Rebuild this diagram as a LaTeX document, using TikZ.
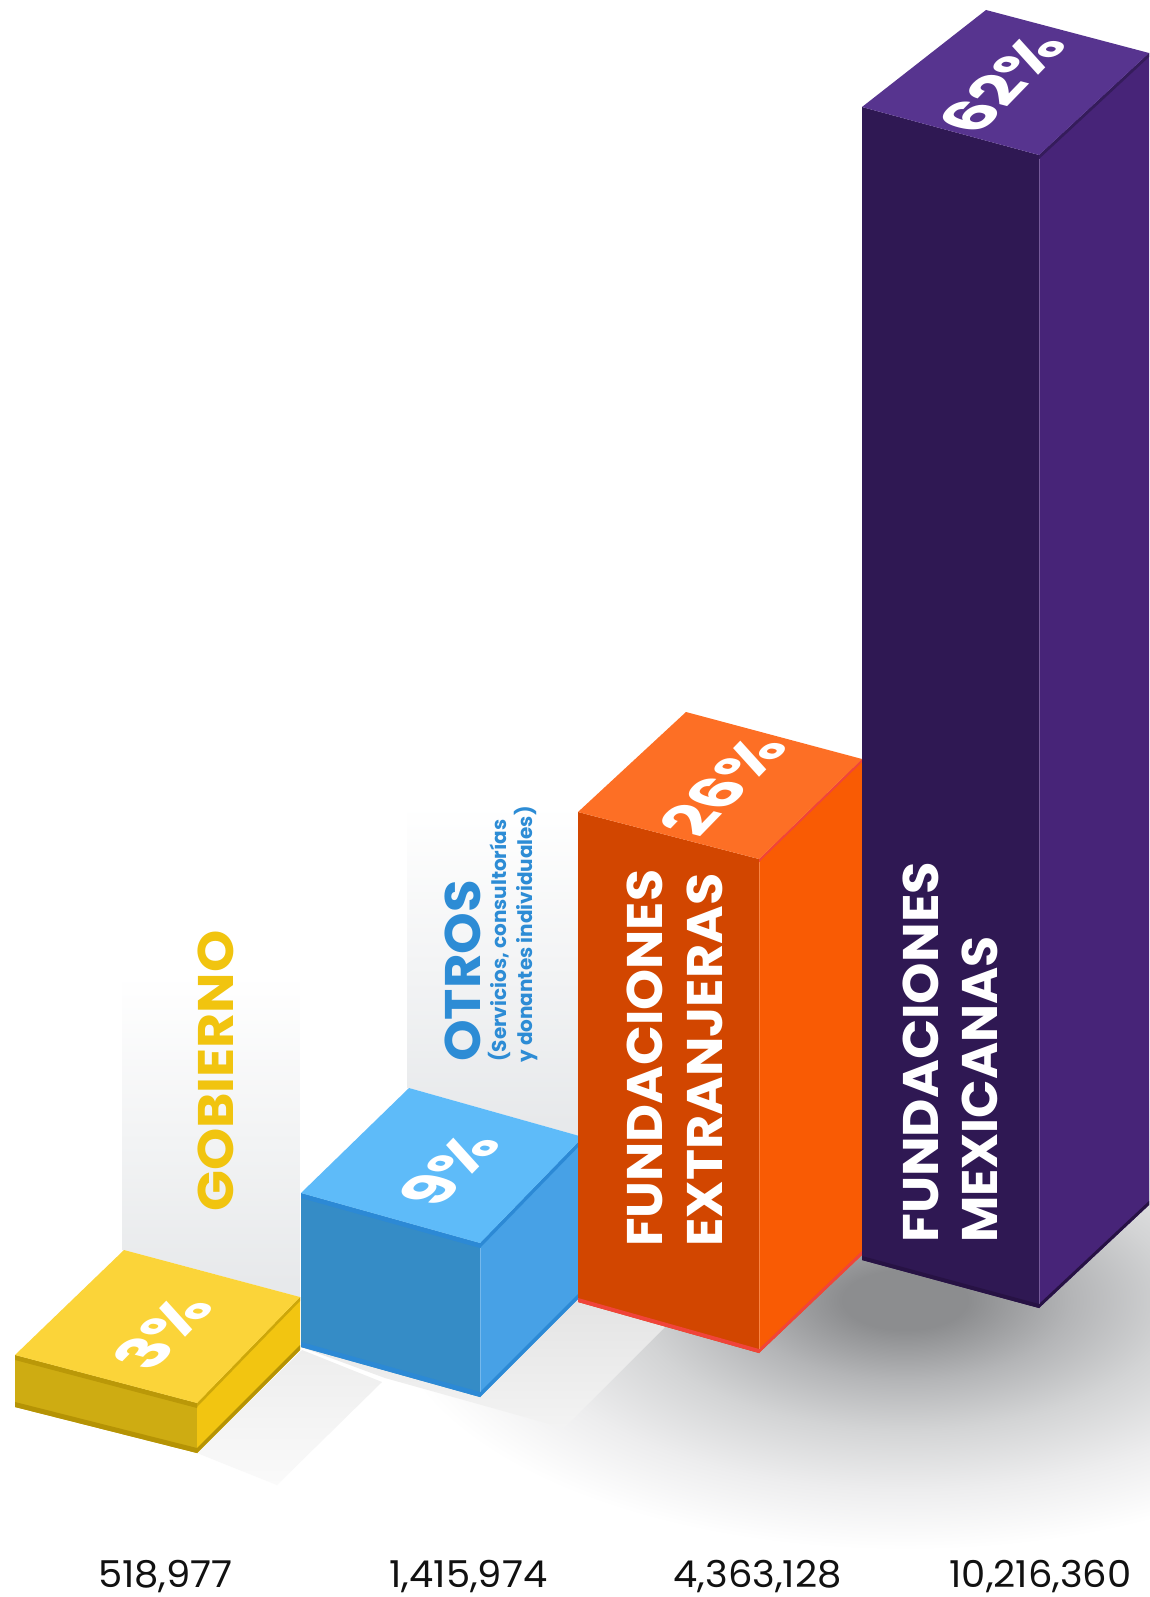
\documentclass[tikz,border=0pt]{standalone}
\usepackage{fontspec}
\setmainfont{Poppins}
\usetikzlibrary{calc}
\definecolor{gTop}{HTML}{FBD439}
\definecolor{gLeft}{HTML}{CEAC12}
\definecolor{gRight}{HTML}{F2C511}
\definecolor{gBand}{HTML}{B59305}
\definecolor{gLab}{HTML}{F1C40F}
\definecolor{bTop}{HTML}{5EBBF9}
\definecolor{bLeft}{HTML}{358CC6}
\definecolor{bRight}{HTML}{47A1E6}
\definecolor{bBand}{HTML}{2C89D5}
\definecolor{bLab}{HTML}{2D8CD5}
\definecolor{oTop}{HTML}{FD6F25}
\definecolor{oLeft}{HTML}{D24600}
\definecolor{oRight}{HTML}{F95B04}
\definecolor{oBand}{HTML}{F0443A}
\definecolor{pTop}{HTML}{57348F}
\definecolor{pLeft}{HTML}{2F1853}
\definecolor{pRight}{HTML}{472478}
\definecolor{pBand}{HTML}{271244}
\definecolor{panel}{HTML}{E6E8EA}
\definecolor{shA}{HTML}{8C8D8F}
\definecolor{shB}{HTML}{B4B5B7}
\definecolor{shC}{HTML}{D3D4D5}
\definecolor{shD}{HTML}{EDEDEE}
\definecolor{sfTop}{HTML}{E3E3E3}
\definecolor{sfBot}{HTML}{F3F3F3}
\definecolor{numc}{HTML}{111111}
\pgfdeclareradialshading{floorsh}{\pgfpoint{0bp}{0bp}}{color(0bp)=(shA); color(3bp)=(shA); color(8bp)=(shB); color(13bp)=(shC); color(19bp)=(shD); color(25bp)=(white); color(50bp)=(white)}
\begin{document}
\begin{tikzpicture}[x=1pt,y=-1pt,
  lab/.style={rotate=90, anchor=base west, inner sep=0pt, font=\fontsize{50}{50}\selectfont\bfseries},
  sub/.style={rotate=90, anchor=base west, inner sep=0pt, text=bLab, font=\fontsize{20}{20}\selectfont\bfseries},
  pct/.style={inner sep=0pt, text=white, font=\fontsize{63}{63}\selectfont\bfseries},
  num/.style={anchor=base, inner sep=0pt, text=numc, xscale=1.04, font=\fontsize{37}{37}\selectfont},
  edgehl/.style={white, opacity=0.25, line width=1pt}
]
\useasboundingbox (0,0) rectangle (1149,1597);
\fill[white] (0,0) rectangle (1149,1597);

% floor shadows
\shade[shading=floorsh] (905,1300) ellipse [x radius=520, y radius=250];
\shade[top color=black!7, bottom color=black!2] (197,1453) -- (302,1350) -- (382,1382) -- (277,1485) -- cycle;
\shade[top color=sfTop, bottom color=sfBot] (480,1397) -- (583,1294) -- (667,1325) -- (564,1428) -- (385,1378) -- (301,1347) -- cycle;

% back panels
\shade[top color=white, bottom color=panel] (122,975) -- (300,975) -- (300,1297) -- (124,1250) -- (122,1250) -- cycle;
\shade[top color=white, bottom color=panel] (407,805) -- (583,805) -- (583,1137) -- (409,1088) -- (407,1088) -- cycle;

% ---------- Gobierno bar
\coordinate (gL) at (15,1355); \coordinate (gB) at (124,1250);
\coordinate (gR) at (300,1297); \coordinate (gF) at (197,1403);
\coordinate (gLb) at (15,1407); \coordinate (gFb) at (197,1453); \coordinate (gRb) at (300,1350);
\fill[gLeft] (gL) -- (gF) -- (gFb) -- (gLb) -- cycle;
\fill[gRight] (gF) -- (gR) -- (gRb) -- (gFb) -- cycle;
\fill[gBand] (gLb) -- ++(0,-5) -- ($(gFb)+(0,-5)$) -- (gFb) -- cycle;
\fill[gBand] (gFb) -- ++(0,-5) -- ($(gRb)+(0,-5)$) -- (gRb) -- cycle;
\fill[gBand!80!gLeft] (gL) -- (gF) -- ++(0,5) -- ($(gL)+(0,5)$) -- cycle;
\fill[gBand!60!gRight] (gF) -- (gR) -- ++(0,4) -- ($(gF)+(0,4)$) -- cycle;
\fill[gTop] (gL) -- (gB) -- (gR) -- (gF) -- cycle;

% ---------- Otros bar
\coordinate (bL) at (301,1193); \coordinate (bB) at (409,1088);
\coordinate (bR) at (583,1137); \coordinate (bF) at (480,1243);
\coordinate (bLb) at (301,1347); \coordinate (bFb) at (480,1397); \coordinate (bRb) at (583,1294);
\fill[bLeft] (bL) -- (bF) -- (bFb) -- (bLb) -- cycle;
\fill[bRight] (bF) -- (bR) -- (bRb) -- (bFb) -- cycle;
\fill[bBand] (bLb) -- ++(0,-5) -- ($(bFb)+(0,-5)$) -- (bFb) -- cycle;
\fill[bBand] (bFb) -- ++(0,-5) -- ($(bRb)+(0,-5)$) -- (bRb) -- cycle;
\fill[bBand] (bL) -- (bF) -- ++(0,5) -- ($(bL)+(0,5)$) -- cycle;
\fill[bBand] (bF) -- (bR) -- ++(0,5) -- ($(bF)+(0,5)$) -- cycle;
\fill[bTop] (bL) -- (bB) -- (bR) -- (bF) -- cycle;
\draw[edgehl] ($(bF)+(0,5)$) -- ($(bFb)+(0,-5)$);

% ---------- Fundaciones extranjeras bar
\coordinate (oL) at (578,812); \coordinate (oB) at (686,712);
\coordinate (oR) at (862,759); \coordinate (oF) at (759,859);
\coordinate (oLb) at (578,1302); \coordinate (oFb) at (759,1353); \coordinate (oRb) at (862,1255);
\fill[oLeft] (oL) -- (oF) -- (oFb) -- (oLb) -- cycle;
\fill[oRight] (oF) -- (oR) -- (oRb) -- (oFb) -- cycle;
\fill[oBand] (oLb) -- ++(0,-4) -- ($(oFb)+(0,-4)$) -- (oFb) -- cycle;
\fill[oBand] (oFb) -- ++(0,-4) -- ($(oRb)+(0,-4)$) -- (oRb) -- cycle;
\fill[oBand] (oF) -- (oR) -- ++(0,3) -- ($(oF)+(0,3)$) -- cycle;
\fill[oTop] (oL) -- (oB) -- (oR) -- (oF) -- cycle;
\draw[edgehl] ($(oF)+(0,3)$) -- ($(oFb)+(0,-4)$);

% ---------- Fundaciones mexicanas bar
\coordinate (pL) at (862,107); \coordinate (pB) at (986,10);
\coordinate (pR) at (1149,53); \coordinate (pF) at (1039,155);
\coordinate (pLb) at (862,1260); \coordinate (pFb) at (1039,1308); \coordinate (pRb) at (1149,1205);
\fill[pLeft] (pL) -- (pF) -- (pFb) -- (pLb) -- cycle;
\fill[pRight] (pF) -- (pR) -- (pRb) -- (pFb) -- cycle;
\fill[pBand] (pLb) -- ++(0,-4) -- ($(pFb)+(0,-4)$) -- (pFb) -- cycle;
\fill[pBand] (pFb) -- ++(0,-4) -- ($(pRb)+(0,-4)$) -- (pRb) -- cycle;
\fill[pBand!70!pTop] (pF) -- (pR) -- ++(0,4) -- ($(pF)+(0,4)$) -- cycle;
\fill[pTop] (pL) -- (pB) -- (pR) -- (pF) -- cycle;
\draw[edgehl] ($(pF)+(0,4)$) -- ($(pFb)+(0,-4)$);

% ---------- percentages on the top faces
\begin{scope}[shift={(162,1333)}]
  \node[pct, cm={0.697,0.717,-0.967,0.255,(0,0)}] (t3) at (0,0) {3\%};
\end{scope}
\begin{scope}[shift={(449,1170)}]
  \node[pct, cm={0.697,0.717,-0.967,0.255,(0,0)}] (t9) at (0,0) {9\%};
\end{scope}
\begin{scope}[shift={(723,786)}]
  \node[pct, cm={0.697,0.717,-0.967,0.255,(0,0)}] (t26) at (0,0) {26\%};
\end{scope}
\begin{scope}[shift={(1002,84)}]
  \node[pct, cm={0.697,0.717,-0.967,0.255,(0,0)}] (t62) at (0,0) {62\%};
\end{scope}

% ---------- category labels
\node[lab, text=gLab, xscale=1.075] (lgob) at (233,1212) {GOBIERNO};
\node[lab, text=bLab, xscale=1.06] (lotr) at (480,1062) {OTROS};
\node[sub] (lsub1) at (506,1062) {(Servicios, consultorías};
\node[sub] (lsub2) at (532,1063) {y donantes individuales)};
\node[lab, text=white, xscale=1.045] (lfe1) at (662,1247) {FUNDACIONES};
\node[lab, text=white, xscale=1.05] (lfe2) at (722,1247) {EXTRANJERAS};
\node[lab, text=white, xscale=1.055] (lfm1) at (938,1243) {FUNDACIONES};
\node[lab, text=white, xscale=1.01] (lfm2) at (997,1243) {MEXICANAS};

% ---------- amounts
\node[num] (n1) at (165.5,1587) {518,977};
\node[num] (n2) at (468.5,1587) {1,415,974};
\node[num] (n3) at (757.5,1587) {4,363,128};
\node[num] (n4) at (1040.5,1587) {10,216,360};
\end{tikzpicture}
\end{document}
